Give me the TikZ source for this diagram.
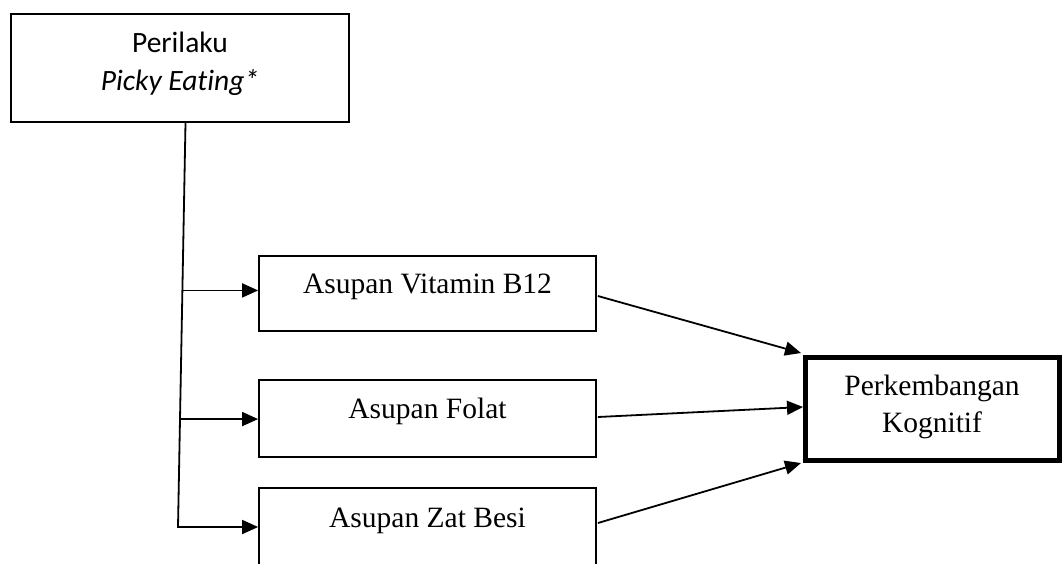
\documentclass[tikz,border=0pt]{standalone}
\usepackage{fontspec}
\setmainfont{Liberation Serif}
\newfontfamily\calfont[Ligatures=NoCommon]{Carlito}
\usetikzlibrary{arrows.meta,calc}
\begin{document}
\begin{tikzpicture}[x=1pt,y=-1pt,
  box/.style={draw, line width=1.8pt, rectangle, inner sep=0pt, minimum width=337pt,
              font=\fontsize{29.5}{35}\selectfont, text height=14pt, text depth=14pt},
  txt/.style={anchor=base, inner sep=0pt, font=\fontsize{29.5}{35}\selectfont},
  caltxt/.style={anchor=base, inner sep=0pt, font=\calfont\fontsize{29.5}{35}\selectfont},
  conn/.style={line width=1.8pt, -{Triangle[length=16pt,width=14pt]}}]
\useasboundingbox (0,0) rectangle (1064,563);
\clip (0,0) rectangle (1064,563);
% top box
\node[draw, line width=1.8pt, rectangle, inner sep=0pt, minimum width=338pt, minimum height=108pt] (pick) at (180,68) {};
\node[caltxt] (pickA) at (180,52) {Perilaku};
\node[caltxt] (pickB) at (180,90) {\itshape Picky Eating*};
% intake boxes
\node[box, minimum height=75pt] (b1) at (427.5,293.5) {Asupan Vitamin B12};
\node[box, minimum height=77pt] (b2) at (427.5,418.5) {Asupan Folat};
\node[box, minimum height=78pt] (b3) at (427.5,527) {Asupan Zat Besi};
% outcome box
\node[draw, line width=5pt, rectangle, inner sep=0pt, minimum width=254pt, minimum height=103pt] (out) at (932.5,409) {};
\node[txt] (outA) at (932,395) {Perkembangan};
\node[txt] (outB) at (932,432) {Kognitif};
% trunk
\coordinate (top) at ([xshift=5.5pt]pick.south);
\coordinate (j3) at (178,527);
\coordinate (j1) at ($(top)!0.4146!(j3)$);
\coordinate (j2) at ($(top)!0.7329!(j3)$);
\coordinate (e1) at (b1.west |- j1);
\coordinate (e2) at (b2.west |- j2);
\draw[conn] (top) -- (j3) -- (b3.west);
\draw[conn] (j1) -- (e1);
\draw[conn] (j2) -- (e2);
% to outcome
\draw[conn] ([shift={(1,2.5)}]b1.east) -- ([shift={(-2,-2)}]out.north west);
\draw[conn] ([shift={(1,-1.5)}]b2.east) -- ([shift={(0,-2)}]out.west);
\draw[conn] ([shift={(1,-4)}]b3.east) -- ([shift={(-2,0)}]out.south west);
\end{tikzpicture}
\end{document}
